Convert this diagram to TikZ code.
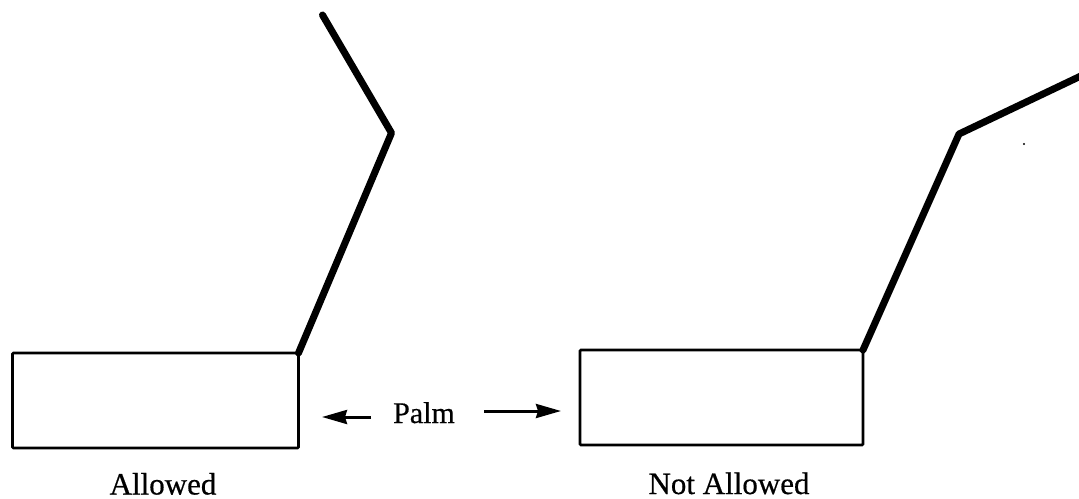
\documentclass[tikz,border=0pt]{standalone}
\usepackage{fontspec}
\setmainfont[FakeBold=0.5]{Liberation Serif}
\usetikzlibrary{arrows.meta}
\tikzset{
  palm/.style={draw=black,line width=2.8pt,rectangle,anchor=north west,inner sep=0pt,outer sep=0pt,rounded corners=1pt},
  finger/.style={draw=black,line width=7pt,line join=round,line cap=round},
  lbl/.style={text=black,inner sep=0pt,anchor=base},
  pointer/.style={draw=black,line width=3pt,-{Stealth[length=25pt,width=14pt,inset=2pt]}}
}
\begin{document}
\begin{tikzpicture}[x=1pt,y=-1pt]
\useasboundingbox (0,0) rectangle (1079,498);
\fill[white] (0,0) rectangle (1079,498);
\node[palm,minimum width=286pt,minimum height=95pt] (pa) at (12.5,353) {};
\node[palm,minimum width=283pt,minimum height=95pt] (pb) at (580,350) {};
\coordinate (a1) at (391.5,133);
\coordinate (a2) at (322.5,15);
\coordinate (b1) at (959,134);
\coordinate (b2) at (1085,74);
\draw[finger] (pa.north east) -- (a1) -- (a2);
\draw[finger] (pb.north east) -- (b1) -- (b2);
\node[lbl,font=\fontsize{30}{32}\selectfont] (palmtext) at (424,423) {Palm};
\coordinate (ltail) at (371,417);
\coordinate (la) at (322,417);
\coordinate (rtail) at (484,411);
\coordinate (lb) at (561,411);
\draw[pointer] (ltail) -- (la);
\draw[pointer] (rtail) -- (lb);
\node[lbl,font=\fontsize{31}{32}\selectfont] (allowed) at (163,494.5) {Allowed};
\node[lbl,font=\fontsize{31}{32}\selectfont] (notallowed) at (729,494) {Not Allowed};
\fill[black] (1024,144) circle (1.2pt);
\end{tikzpicture}
\end{document}
